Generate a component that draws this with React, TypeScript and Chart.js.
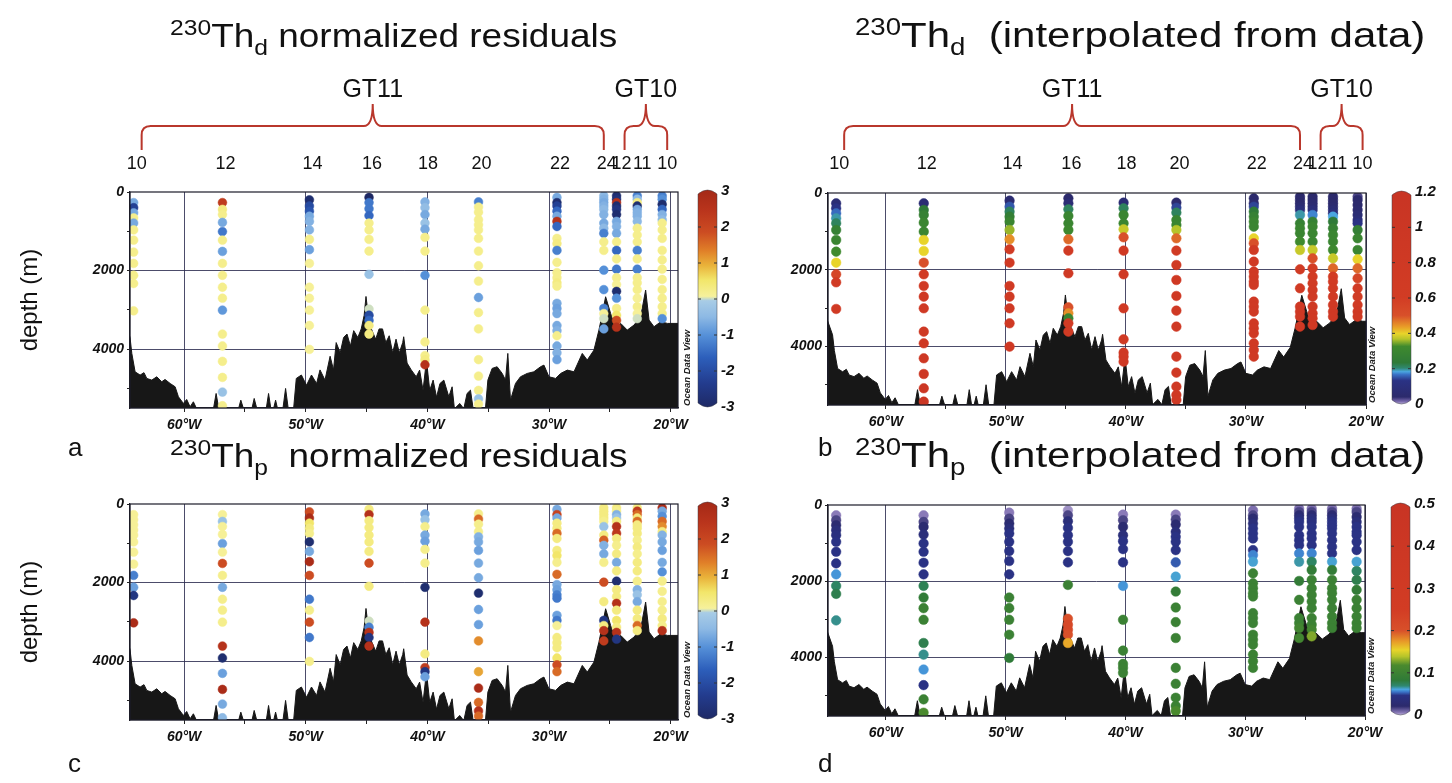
import React, { useEffect, useRef } from 'react';
import { Chart, registerables } from 'chart.js';

Chart.register(...registerables);

const FONT = '"Liberation Sans", Arial, Helvetica, sans-serif';

// ---------------- stations ----------------
const stationLabels = ['10', '12', '14', '16', '18', '20', '22', '24', '12', '11', '10'];
const stationCruise = ['GT11', 'GT11', 'GT11', 'GT11', 'GT11', 'GT11', 'GT11', 'GT11', 'GT10', 'GT10', 'GT10'];
const stationLon = [-64.15, -56.85, -49.7, -44.8, -40.2, -35.8, -29.35, -25.5, -24.45, -22.75, -20.7];

// sample depths (m) per station
const depSt10 = [270, 400, 530, 660, 790, 965, 1226, 1530, 1818, 2120, 2330, 3025];
const depSt12 = [270, 443, 574, 774, 1008, 1226, 1513, 1818, 2121, 2425, 2704, 3008, 3617, 3921, 4312, 4721, 5094, 5443];
const depSt14 = [200, 357, 487, 617, 748, 965, 1208, 1469, 1818, 2425, 2704, 3008, 3399, 4008];
const depSt16 = [139, 270, 426, 600, 791, 965, 1208, 1504, 2095, 2982, 3138, 3269, 3399, 3617];
const depSt18 = [252, 400, 574, 791, 948, 1156, 1504, 2121, 3008, 3817, 4165, 4269, 4399];
const depSt20 = [252, 383, 513, 704, 835, 965, 1182, 1504, 1878, 2269, 2686, 3069, 3486, 4269, 4686, 5051, 5268, 5399];
const depSt22 = [139, 270, 357, 487, 617, 748, 878, 1182, 1313, 1487, 1791, 2052, 2182, 2312, 2399, 2834, 2964, 3095, 3399, 3530, 3660, 3921, 4095, 4269];
const depSt24 = [96, 183, 270, 357, 443, 574, 791, 922, 1052, 1269, 1487, 1991, 2486, 2964, 3095, 3225, 3486];
const depG10St12 = [96, 183, 270, 357, 443, 574, 748, 878, 1052, 1269, 1487, 1704, 1965, 2182, 2356, 2530, 2704, 2964, 3138, 3269, 3443];
const depG10St11 = [96, 183, 270, 357, 443, 530, 617, 748, 922, 1095, 1269, 1487, 1704, 1965, 2182, 2312, 2486, 2704, 2921, 3095, 3225];
const depG10St10 = [96, 183, 313, 443, 574, 704, 791, 965, 1182, 1487, 1730, 1965, 2225, 2486, 2704, 2921, 3095, 3225];
const sampleDepths = [depSt10, depSt12, depSt14, depSt16, depSt18, depSt20, depSt22, depSt24, depG10St12, depG10St11, depG10St10];

// (a) 230Th dissolved normalized residuals
const thdResidual = [
  [-0.7, -2.2, -0.7, 0.2, -0.7, 0.2, 0.2, 0.2, 0.2, 0.2, 0.2, 0.2],
  [2.2, 0.3, 0.2, -0.7, -1.3, 0.2, -0.8, 0.2, 0.2, 0.2, 0.2, -0.9, 0.2, 0.2, 0.2, 0.2, -0.3, 0.2],
  [-2.8, -2.0, -1.8, -0.7, -0.6, -0.6, 0.2, -0.8, 0.1, 0.1, 0.1, 0.1, 0.1, 0.1],
  [-3.0, -1.3, -1.3, -1.5, 0.2, 0.2, 0.2, 0.2, -0.3, 0.0, -2.0, -1.5, 0.3, 0.3],
  [-0.6, -0.4, -0.7, -0.3, -0.7, 0.2, 0.2, -1.0, 0.2, 0.2, 0.2, 0.3, 2.5],
  [-1.2, 0.2, 0.2, 0.2, 0.2, 0.2, 0.2, 0.2, 0.2, 0.2, -0.8, 0.2, 0.2, 0.2, 0.2, 0.2, -0.3, 0.2],
  [-0.7, -2.8, -2.2, -1.5, -0.7, 2.5, -1.5, 0.2, 0.3, -1.2, 0.2, 0.2, 0.2, 0.3, 0.2, -0.7, -0.8, -0.7, -0.7, -0.6, 0.2, -0.7, -0.6, -0.8],
  [-0.5, -0.6, -0.7, -0.6, -0.5, -0.6, -0.7, -0.5, -1.2, 0.2, 0.2, -1.0, -1.0, -1.2, 0.1, 0.0, -0.8],
  [-2.8, -2.6, 2.5, -2.8, -2.5, -2.8, -0.7, -0.6, -0.7, 0.2, -1.5, 0.2, -1.3, 0.2, 0.1, -2.8, -1.0, 0.2, 0.5, 1.8, 2.5],
  [-1.2, -0.5, 0.3, -2.8, -0.7, -0.6, -0.6, -0.5, 0.2, 0.2, 0.2, -1.2, 0.2, -1.2, 0.2, 0.2, 0.2, 0.1, 0.2, 0.1, 0.0],
  [-1.2, -1.0, -2.8, -1.5, -0.6, -0.5, 0.2, 0.2, 0.2, 0.2, 0.2, 0.2, 0.2, 0.2, 0.2, 0.2, 0.2, -1.0],
];

// (b) 230Th dissolved (interpolated from data)
const thdInterp = [
  [0.08, 0.14, 0.17, 0.2, 0.22, 0.28, 0.3, 0.33, 0.4, 0.55, 0.65, 0.75],
  [0.08, 0.24, 0.28, 0.3, 0.3, 0.4, 0.4, 0.5, 0.65, 0.75, 0.8, 0.8, 0.85, 0.85, 0.9, 0.9, 0.95, 1.0],
  [0.07, 0.16, 0.22, 0.27, 0.3, 0.36, 0.45, 0.7, 0.72, 0.75, 0.78, 0.8, 0.8, 0.8],
  [0.05, 0.08, 0.22, 0.3, 0.3, 0.32, 0.48, 0.72, 0.8, 0.5, 0.45, 0.3, 0.65, 0.7],
  [0.08, 0.22, 0.3, 0.3, 0.38, 0.5, 0.75, 0.8, 0.8, 0.75, 0.8, 0.8, 0.8],
  [0.05, 0.15, 0.22, 0.3, 0.3, 0.37, 0.48, 0.7, 0.75, 0.8, 0.8, 0.8, 0.8, 0.8, 0.8, 0.8, 0.8, 0.8],
  [0.05, 0.06, 0.15, 0.24, 0.28, 0.3, 0.3, 0.4, 0.5, 0.7, 0.75, 0.8, 0.8, 0.8, 0.8, 0.8, 0.8, 0.8, 0.8, 0.8, 0.8, 0.8, 0.8, 0.8],
  [0.05, 0.05, 0.05, 0.07, 0.1, 0.2, 0.28, 0.3, 0.3, 0.33, 0.38, 0.7, 0.75, 0.8, 0.8, 0.8, 0.8],
  [0.05, 0.05, 0.06, 0.07, 0.1, 0.18, 0.28, 0.3, 0.3, 0.3, 0.38, 0.5, 0.6, 0.65, 0.7, 0.75, 0.8, 0.8, 0.8, 0.8, 0.8],
  [0.05, 0.05, 0.05, 0.06, 0.08, 0.1, 0.19, 0.24, 0.28, 0.3, 0.3, 0.32, 0.38, 0.48, 0.6, 0.65, 0.7, 0.75, 0.8, 0.8, 0.8],
  [0.04, 0.05, 0.05, 0.06, 0.08, 0.1, 0.14, 0.27, 0.3, 0.3, 0.4, 0.48, 0.55, 0.65, 0.7, 0.75, 0.8, 0.8],
];

// (c) 230Th particulate normalized residuals
const thpResidual = [
  [0.1, 0.1, 0.1, 0.1, 0.1, 0.1, 0.1, 0.1, -1.2, -0.8, -2.5, 2.8],
  [0.1, -0.3, 0.1, 0.1, -0.8, 0.1, 1.8, 0.2, -0.7, 0.2, 0.2, 0.2, 2.5, -2.8, -0.8, 2.8, -0.7, -0.5],
  [1.8, 2.8, 0.5, 0.3, 0.2, -2.8, -0.7, 2.8, 1.8, -1.3, 0.2, 1.8, -1.3, 0.2],
  [0.3, 2.5, 0.3, 0.3, 0.3, 0.3, 0.3, 1.8, 0.3, 0.0, -1.2, 2.5, -2.5, 2.5],
  [-0.7, -0.3, 0.2, -0.7, -0.8, 0.2, 0.2, -2.8, 2.5, 0.3, 2.2, -2.5, -0.8],
  [0.2, 1.5, 0.2, 0.2, -0.6, -0.7, -0.8, -0.7, -0.7, -2.8, -0.8, -0.8, 1.2, 1.0, 2.8, 1.5, 2.5, 1.5],
  [-0.7, 2.0, -0.7, 0.3, 0.3, 1.5, 0.3, 0.3, 0.5, 0.2, 1.5, -0.7, -0.8, -1.2, -1.3, -0.8, -1.3, 0.1, 0.3, 0.3, 0.3, 0.5, 1.8, 1.5],
  [0.3, 0.3, 0.3, 0.3, 0.2, -0.3, 0.3, 1.6, -0.6, -0.7, 0.2, 1.8, 0.3, -2.5, 0.3, 2.5, 2.2],
  [0.3, 0.2, -0.6, -0.3, 0.3, 2.5, 2.3, 0.3, 0.2, 0.3, -0.7, 0.3, -2.8, 0.3, 0.3, 2.5, 0.3, 0.5, 0.3, 2.5, -2.5],
  [0.3, 2.2, 1.5, 0.3, 1.5, 0.3, 0.3, 0.3, 0.2, 0.3, 0.2, 0.3, 0.3, 0.2, -0.6, -0.3, -0.7, 0.3, 0.3, 1.5, 0.3],
  [2.8, -0.7, -1.0, 1.5, 1.2, 0.3, -0.6, -0.7, -0.8, -0.7, -1.0, 0.2, 0.2, 0.2, 0.2, 0.3, 0.2, 2.5],
];

// (d) 230Th particulate (interpolated from data)
const thpInterp = [
  [0.01, 0.02, 0.03, 0.04, 0.045, 0.05, 0.05, 0.05, 0.062, 0.075, 0.08, 0.07],
  [0.01, 0.02, 0.03, 0.04, 0.05, 0.05, 0.05, 0.05, 0.078, 0.088, 0.1, 0.1, 0.08, 0.07, 0.062, 0.05, 0.1, 0.12],
  [0.01, 0.02, 0.03, 0.04, 0.05, 0.05, 0.05, 0.05, 0.05, 0.1, 0.1, 0.1, 0.1, 0.085],
  [0.008, 0.02, 0.04, 0.05, 0.05, 0.05, 0.05, 0.05, 0.1, 0.2, 0.22, 0.22, 0.2, 0.17],
  [0.01, 0.02, 0.03, 0.04, 0.05, 0.05, 0.05, 0.062, 0.1, 0.1, 0.1, 0.1, 0.1],
  [0.01, 0.02, 0.03, 0.04, 0.05, 0.05, 0.05, 0.055, 0.065, 0.09, 0.1, 0.1, 0.1, 0.1, 0.1, 0.1, 0.1, 0.12],
  [0.012, 0.02, 0.03, 0.04, 0.05, 0.05, 0.05, 0.05, 0.06, 0.065, 0.1, 0.1, 0.1, 0.1, 0.1, 0.1, 0.1, 0.1, 0.1, 0.1, 0.1, 0.1, 0.1, 0.1],
  [0.012, 0.02, 0.03, 0.04, 0.05, 0.05, 0.05, 0.05, 0.05, 0.06, 0.068, 0.09, 0.1, 0.1, 0.1, 0.11, 0.11],
  [0.012, 0.02, 0.03, 0.04, 0.045, 0.05, 0.05, 0.05, 0.05, 0.06, 0.075, 0.09, 0.1, 0.1, 0.1, 0.1, 0.1, 0.1, 0.1, 0.11, 0.13],
  [0.012, 0.02, 0.03, 0.04, 0.05, 0.05, 0.05, 0.05, 0.05, 0.05, 0.05, 0.065, 0.09, 0.1, 0.1, 0.1, 0.1, 0.1, 0.1, 0.1, 0.1],
  [0.012, 0.02, 0.03, 0.04, 0.05, 0.05, 0.05, 0.05, 0.05, 0.065, 0.075, 0.08, 0.09, 0.1, 0.1, 0.1, 0.1, 0.1],
];

// bathymetry along the section (longitude, depth m)
const bathyLon = [
  -64.9, -64.45, -64.3, -64.03, -63.62, -63.3, -63.07, -62.66, -62.25, -61.84, -61.57, -61.15, -60.74, -60.47, -60.06,
  -59.79, -59.51, -59.24, -58.97, -57.59, -57.37, -57.15, -55.53, -55.34, -55.12, -54.43, -54.24, -54.02, -53.25, -53.06,
  -52.87, -52.65, -52.48, -52.32, -51.88, -51.66, -51.44, -51.0, -50.78, -50.36, -49.94, -49.53, -49.11, -48.83, -48.42,
  -48.0, -47.72, -47.5, -47.17, -46.89, -46.61, -46.33, -46.06, -45.72, -45.44, -45.2, -45.05, -44.8, -44.61, -44.25,
  -43.97, -43.69, -43.42, -43.14, -42.86, -42.58, -42.31, -42.03, -41.95, -41.67, -41.33, -40.92, -40.64, -40.36, -40.08,
  -39.81, -39.53, -39.25, -38.97, -38.65, -38.24, -37.97, -37.78, -37.34, -37.01, -36.74, -36.46, -36.24, -35.23, -35.03,
  -34.68, -34.27, -33.85, -33.58, -33.39, -33.17, -32.76, -32.35, -31.8, -31.25, -30.7, -30.42, -30.01, -29.46, -29.05,
  -28.5, -27.95, -27.27, -26.86, -26.31, -25.9, -25.62, -25.35, -24.94, -24.53, -24.11, -23.57, -23.02, -22.47, -22.06,
  -21.78, -21.37, -20.82, -20.27, -19.3,
];
const bathyDepth = [
  3300, 3700, 4110, 4578, 4662, 4600, 4747, 4790, 4705, 4832, 4773, 4875, 4960, 5214, 5384,
  5282, 5469, 5342, 5520, 5520, 5130, 5520, 5520, 5300, 5520, 5520, 5257, 5520, 5520, 5130,
  5520, 5520, 5300, 5520, 5520, 5002, 5520, 5520, 4747, 4660, 4921, 4660, 4877, 4530, 4790,
  4182, 4530, 3834, 4095, 3704, 3617, 3921, 3530, 3704, 3486, 3139, 2660, 3300, 3486, 3747,
  3486, 3486, 3834, 3660, 4095, 3747, 4095, 3834, 3686, 4356, 4530, 4704, 4535, 5051, 4280,
  5051, 4790, 5225, 4877, 4790, 5214, 4960, 5520, 5384, 5520, 5130, 5045, 5520, 5520, 4790,
  4492, 4450, 4620, 4790, 4110, 5300, 4875, 4705, 4620, 4578, 4450, 4408, 4705, 4747, 4620,
  4535, 4578, 4110, 4280, 4026, 3516, 3091, 2667, 3091, 3473, 3346, 3516, 3389, 3176, 2497,
  3261, 3431, 3304, 3346, 3346,
];

// axis ticks
const lonTicks = [-60, -55, -50, -45, -40, -35, -30, -25, -20];
const depthTicks = [0, 1000, 2000, 3000, 4000, 5000];
// colour-bar tick labels
const residualTicks = [3, 2, 1, 0, -1, -2, -3];
const thdTicks = [1.2, 1, 0.8, 0.6, 0.4, 0.2, 0];
const thpTicks = [0.5, 0.4, 0.3, 0.2, 0.1, 0];

// colour maps
type Stop = [number, string];
const residualStops: Stop[] = [
  [-3, '#1e2862'], [-2.3, '#233c8e'], [-1.6, '#2d5fbb'], [-1.0, '#5590d8'], [-0.5, '#8db9e4'], [-0.06, '#a8cce6'],
  [0.06, '#f6f19c'], [0.5, '#f2e66a'], [0.9, '#e9b23a'], [1.3, '#e07f28'], [1.8, '#cc4c22'], [2.4, '#b9341c'], [3, '#a22816'],
];
const thdStops: Stop[] = [
  [0, '#ece6f6'], [0.025, '#7a6aae'], [0.05, '#2c2a6c'], [0.14, '#2a3284'], [0.175, '#3a74c8'], [0.19, '#4aa6e0'],
  [0.21, '#2f8870'], [0.24, '#2f7a38'], [0.33, '#3f8a2e'], [0.37, '#b6c42a'], [0.4, '#e8d42a'], [0.44, '#e89a28'],
  [0.5, '#d8502a'], [0.6, '#d23c24'], [1.2, '#c83424'],
];
const thpStops: Stop[] = [
  [0, '#ece6f6'], [0.01, '#8a7ab8'], [0.025, '#2c2a6c'], [0.05, '#2a3284'], [0.058, '#3a74c8'], [0.064, '#4aa6e0'],
  [0.072, '#2f8870'], [0.085, '#2f7a38'], [0.12, '#4a8a2e'], [0.14, '#b6c42a'], [0.155, '#e8d42a'], [0.175, '#e89a28'],
  [0.2, '#d8502a'], [0.25, '#d23c24'], [0.5, '#c83424'],
];

function hexRgb(h: string) {
  const n = parseInt(h.slice(1), 16);
  return [(n >> 16) & 255, (n >> 8) & 255, n & 255];
}
function colorAt(stops: Stop[], v: number) {
  if (v <= stops[0][0]) return stops[0][1];
  const last = stops[stops.length - 1];
  if (v >= last[0]) return last[1];
  for (let i = 0; i < stops.length - 1; i++) {
    const [a, ca] = stops[i];
    const [b, cb] = stops[i + 1];
    if (v >= a && v <= b) {
      const t = (v - a) / (b - a);
      const A = hexRgb(ca);
      const B = hexRgb(cb);
      const c = A.map((x, k) => Math.round(x + (B[k] - x) * t));
      return `rgb(${c[0]},${c[1]},${c[2]})`;
    }
  }
  return last[1];
}

type PanelSpec = {
  id: string;
  left: number; top: number; width: number; height: number;
  pad: { left: number; right: number; top: number; bottom: number };
  yAxisWidth: number; xAxisHeight: number;
  xMin: number; xMax: number; yMax: number;
  values: number[][]; stops: Stop[]; cbTicks: number[];
  cbOffset: number; odvOffset: number; radius: number;
  yTitle: boolean; header: boolean;
};

const panels: PanelSpec[] = [
  {
    id: 'a', left: 0, top: 0, width: 745, height: 440,
    pad: { left: 12, right: 67, top: 192, bottom: 2 }, yAxisWidth: 118, xAxisHeight: 30,
    xMin: -64.45, xMax: -19.4, yMax: 5500,
    values: thdResidual, stops: residualStops, cbTicks: residualTicks,
    cbOffset: 20, odvOffset: 9, radius: 4.4, yTitle: true, header: true,
  },
  {
    id: 'b', left: 740, top: 0, width: 712, height: 440,
    pad: { left: 28, right: 86, top: 193, bottom: 5 }, yAxisWidth: 60, xAxisHeight: 30,
    xMin: -64.83, xMax: -20.0, yMax: 5530,
    values: thdInterp, stops: thdStops, cbTicks: thdTicks,
    cbOffset: 26, odvOffset: 6, radius: 4.8, yTitle: false, header: true,
  },
  {
    id: 'c', left: 0, top: 440, width: 745, height: 343,
    pad: { left: 12, right: 67, top: 64, bottom: 33 }, yAxisWidth: 118, xAxisHeight: 30,
    xMin: -64.45, xMax: -19.4, yMax: 5500,
    values: thpResidual, stops: residualStops, cbTicks: residualTicks,
    cbOffset: 20, odvOffset: 9, radius: 4.4, yTitle: true, header: false,
  },
  {
    id: 'd', left: 740, top: 440, width: 712, height: 343,
    pad: { left: 28, right: 87, top: 65, bottom: 37 }, yAxisWidth: 60, xAxisHeight: 30,
    xMin: -64.83, xMax: -20.0, yMax: 5530,
    values: thpInterp, stops: thpStops, cbTicks: thpTicks,
    cbOffset: 26, odvOffset: 6, radius: 4.8, yTitle: false, header: false,
  },
];

const GRID = 'rgba(45,45,80,0.85)';
const tickFont = { family: FONT, size: 14, weight: 'bold' as const, style: 'italic' as const };

function makePlugin(spec: PanelSpec) {
  return {
    id: 'odvDecor' + spec.id,
    afterDatasetsDraw(chart: any) {
      const { ctx, chartArea: ca } = chart;
      ctx.save();
      ctx.strokeStyle = '#1c1c28';
      ctx.lineWidth = 1.2;
      ctx.strokeRect(ca.left, ca.top, ca.right - ca.left, ca.bottom - ca.top);
      ctx.restore();
    },
    afterDraw(chart: any) {
      const { ctx, chartArea: ca } = chart;
      const xs = chart.scales.x;
      const x0 = ca.right + spec.cbOffset;
      const w = 19;
      const top = ca.top - 4;
      const bot = ca.bottom + 1;
      const tip = 6;
      const vMax = spec.cbTicks[0];
      const vMin = spec.cbTicks[spec.cbTicks.length - 1];
      const grad = ctx.createLinearGradient(0, top, 0, bot);
      spec.stops.forEach(([v, c]) => {
        const t = (vMax - v) / (vMax - vMin);
        if (t >= 0 && t <= 1) grad.addColorStop(t, c);
      });
      ctx.save();
      ctx.beginPath();
      ctx.moveTo(x0, top + tip);
      ctx.quadraticCurveTo(x0 + w / 2, top - 2, x0 + w, top + tip);
      ctx.lineTo(x0 + w, bot - tip);
      ctx.quadraticCurveTo(x0 + w / 2, bot + 2, x0, bot - tip);
      ctx.closePath();
      ctx.fillStyle = grad;
      ctx.fill();
      ctx.strokeStyle = 'rgba(60,60,70,0.6)';
      ctx.lineWidth = 0.8;
      ctx.stroke();
      const lTop = top + 3;
      const lBot = bot - 2;
      ctx.font = `italic bold 15px ${FONT}`;
      ctx.fillStyle = '#111';
      ctx.textAlign = 'left';
      ctx.textBaseline = 'middle';
      spec.cbTicks.forEach((v, i) => {
        const y = lTop + ((vMax - v) / (vMax - vMin)) * (lBot - lTop);
        if (i > 0 && i < spec.cbTicks.length - 1) {
          ctx.strokeStyle = '#333';
          ctx.lineWidth = 1;
          ctx.beginPath();
          ctx.moveTo(x0, y); ctx.lineTo(x0 + 3, y);
          ctx.moveTo(x0 + w - 3, y); ctx.lineTo(x0 + w, y);
          ctx.stroke();
        }
        ctx.fillText(String(v), x0 + w + 4, y);
      });
      ctx.translate(ca.right + spec.odvOffset, ca.bottom - 2);
      ctx.rotate(-Math.PI / 2);
      ctx.font = `italic bold 9.5px ${FONT}`;
      ctx.textBaseline = 'middle';
      ctx.fillStyle = '#1a1a1a';
      ctx.fillText('Ocean Data View', 0, 0);
      ctx.restore();

      if (spec.header) {
        const px = (i: number) => xs.getPixelForValue(stationLon[i]);
        ctx.save();
        ctx.font = `18px ${FONT}`;
        ctx.fillStyle = '#111';
        ctx.textAlign = 'center';
        ctx.textBaseline = 'alphabetic';
        stationLabels.forEach((lab, i) => {
          const nudge = stationCruise[i] === 'GT10' ? 5 : 3;
          ctx.fillText(lab, px(i) + nudge, 169);
        });
        const drawBracket = (xa: number, xb: number, label: string) => {
          const yH = 126, yPeak = 104, yEnd = 150, r = 9;
          const xm = (xa + xb) / 2;
          ctx.strokeStyle = '#b9372c';
          ctx.lineWidth = 2;
          ctx.beginPath();
          ctx.moveTo(xa, yEnd);
          ctx.lineTo(xa, yH + r);
          ctx.quadraticCurveTo(xa, yH, xa + r, yH);
          ctx.lineTo(xm - r, yH);
          ctx.quadraticCurveTo(xm, yH, xm, yPeak);
          ctx.quadraticCurveTo(xm, yH, xm + r, yH);
          ctx.lineTo(xb - r, yH);
          ctx.quadraticCurveTo(xb, yH, xb, yH + r);
          ctx.lineTo(xb, yEnd);
          ctx.stroke();
          ctx.font = `25px ${FONT}`;
          ctx.fillStyle = '#111';
          ctx.fillText(label, xm, 97);
        };
        const gt11 = stationCruise.map((c, i) => (c === 'GT11' ? i : -1)).filter((i) => i >= 0);
        const gt10 = stationCruise.map((c, i) => (c === 'GT10' ? i : -1)).filter((i) => i >= 0);
        drawBracket(px(gt11[0]) + 8, px(gt11[gt11.length - 1]), 'GT11');
        drawBracket(px(gt10[0]) + 8, px(gt10[gt10.length - 1]) + 5, 'GT10');
        ctx.restore();
      }
    },
  };
}

function Panel({ spec }: { spec: PanelSpec }) {
  const ref = useRef<HTMLCanvasElement | null>(null);
  useEffect(() => {
    if (!ref.current) return;
    const datasets: any[] = [
      {
        type: 'line',
        label: 'bathymetry',
        data: bathyLon.map((x, i) => ({ x, y: bathyDepth[i] })),
        borderColor: '#171717',
        backgroundColor: '#171717',
        borderWidth: 1,
        pointRadius: 0,
        tension: 0,
        fill: { value: spec.yMax + 100 },
        order: 2,
      },
    ];
    sampleDepths.forEach((deps, si) => {
      const vals = spec.values[si];
      const colors = vals.map((v) => colorAt(spec.stops, v));
      datasets.push({
        type: 'scatter',
        label: stationCruise[si] + '-' + stationLabels[si],
        data: deps.map((d) => ({ x: stationLon[si], y: d })),
        pointRadius: spec.radius,
        pointBackgroundColor: colors,
        pointBorderColor: colors,
        pointBorderWidth: 0.5,
        order: 1,
      });
    });
    const chart = new Chart(ref.current, {
      type: 'scatter',
      data: { datasets },
      plugins: [makePlugin(spec)],
      options: {
        animation: false,
        responsive: false,
        devicePixelRatio: 1,
        events: [],
        layout: { padding: spec.pad },
        plugins: { legend: { display: false }, tooltip: { enabled: false }, title: { display: false } },
        scales: {
          x: {
            type: 'linear',
            position: 'bottom',
            min: spec.xMin,
            max: spec.xMax,
            afterBuildTicks: (s: any) => { s.ticks = lonTicks.map((value) => ({ value })); },
            afterFit: (s: any) => { s.height = spec.xAxisHeight; },
            ticks: {
              autoSkip: false,
              maxRotation: 0,
              padding: 5,
              color: '#111',
              font: tickFont,
              callback: (v: any) => (Math.round(Number(v)) % 10 === 0 ? `${Math.abs(Math.round(Number(v)))}°W` : ''),
            },
            grid: {
              color: (c: any) => (c.tick && Math.round(c.tick.value) % 10 === 0 ? GRID : 'rgba(0,0,0,0)'),
              lineWidth: 1,
              tickLength: 4,
              tickColor: '#222',
            },
            border: { display: true, color: '#1c1c28', width: 1.2 },
          },
          y: {
            type: 'linear',
            reverse: true,
            min: 0,
            max: spec.yMax,
            afterBuildTicks: (s: any) => { s.ticks = depthTicks.map((value) => ({ value })); },
            afterFit: (s: any) => { s.width = spec.yAxisWidth; },
            ticks: {
              autoSkip: false,
              padding: 3,
              color: '#111',
              font: tickFont,
              callback: (v: any) => (Number(v) % 2000 === 0 ? String(v) : ''),
            },
            grid: {
              color: (c: any) => (c.tick && c.tick.value % 2000 === 0 && c.tick.value > 0 ? GRID : 'rgba(0,0,0,0)'),
              lineWidth: 1,
              tickLength: 3,
              tickColor: '#222',
            },
            border: { display: true, color: '#1c1c28', width: 1.2 },
            title: {
              display: spec.yTitle,
              text: 'depth (m)',
              color: '#111',
              font: { family: FONT, size: 24 },
              padding: { top: 4, bottom: 4 },
            },
          },
        },
      } as any,
    });
    return () => chart.destroy();
  }, [spec]);
  return (
    <canvas
      ref={ref}
      width={spec.width}
      height={spec.height}
      style={{ position: 'absolute', left: spec.left, top: spec.top, width: spec.width, height: spec.height }}
    />
  );
}

function Title({ left, top, sub, rest, size, supSize, stretch }: {
  left: number; top: number; sub: string; rest: string; size: number; supSize: number; stretch: number;
}) {
  return (
    <div
      style={{
        position: 'absolute', left, top, fontFamily: FONT, fontSize: size, lineHeight: '40px',
        whiteSpace: 'pre', color: '#111', transform: `scaleX(${stretch})`, transformOrigin: 'left center',
      }}
    >
      <span style={{ fontSize: supSize, position: 'relative', top: -12 }}>230</span>
      <span>Th</span>
      <span style={{ fontSize: supSize, position: 'relative', top: 8 }}>{sub}</span>
      <span>{rest}</span>
    </div>
  );
}

function Letter({ left, top, text }: { left: number; top: number; text: string }) {
  return (
    <div style={{ position: 'absolute', left, top, fontFamily: FONT, fontSize: 26, lineHeight: '30px', color: '#111' }}>
      {text}
    </div>
  );
}

export default function App() {
  return (
    <div style={{ position: 'absolute', left: 0, top: 0, width: 1452, height: 783, background: '#fff', overflow: 'hidden' }}>
      {panels.map((p) => (
        <Panel key={p.id} spec={p} />
      ))}
      <Title left={170} top={16} sub="d" rest=" normalized residuals" size={33} supSize={22} stretch={1.12} />
      <Title left={855} top={15} sub="d" rest="  (interpolated from data)" size={35} supSize={23} stretch={1.2} />
      <Title left={170} top={436} sub="p" rest="  normalized residuals" size={33} supSize={22} stretch={1.12} />
      <Title left={855} top={435} sub="p" rest="  (interpolated from data)" size={35} supSize={23} stretch={1.2} />
      <Letter left={68} top={432} text="a" />
      <Letter left={818} top={432} text="b" />
      <Letter left={68} top={748} text="c" />
      <Letter left={818} top={748} text="d" />
    </div>
  );
}
